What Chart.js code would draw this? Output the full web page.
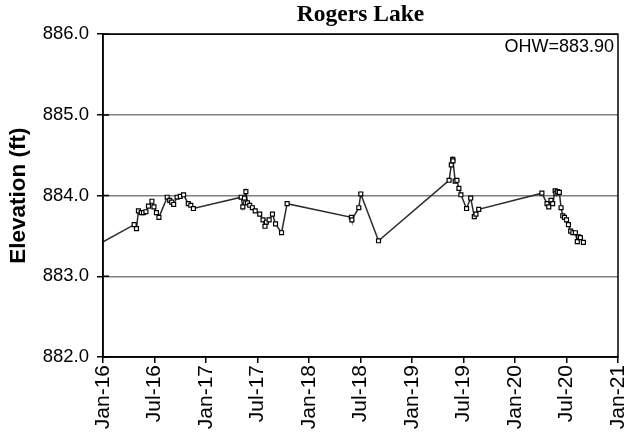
<!DOCTYPE html>
<html>
<head>
<meta charset="utf-8">
<script src="https://cdn.jsdelivr.net/npm/chart.js@4"></script>
<style>
  html, body { margin: 0; padding: 0; background: #fff; }
  #wrap { width: 624px; height: 440px; }
</style>
</head>
<body>
<div id="wrap"><canvas id="lakeChart" width="624" height="440"></canvas></div>
<script>
const chartTitle = "Rogers Lake";
const yAxisTitle = "Elevation (ft)";
const ohwLabel = "OHW=883.90";

// survey dates and lake elevations (ft)
const dates = [
    "2015-11-01",
    "2016-04-20", "2016-04-28", "2016-05-05", "2016-05-15", "2016-05-23", "2016-06-01",
    "2016-06-10", "2016-06-22", "2016-06-29", "2016-07-08", "2016-07-17", "2016-08-16",
    "2016-08-25", "2016-09-01", "2016-09-08", "2016-09-20", "2016-10-01", "2016-10-13",
    "2016-10-30", "2016-11-08", "2016-11-17",
    "2017-05-04", "2017-05-10", "2017-05-16", "2017-05-21", "2017-05-27", "2017-06-04",
    "2017-06-13", "2017-06-23", "2017-07-09", "2017-07-21", "2017-07-28", "2017-08-02",
    "2017-08-12", "2017-08-24", "2017-09-04", "2017-09-25", "2017-10-15",
    "2018-05-30", "2018-06-01", "2018-06-25", "2018-07-02", "2018-09-04",
    "2019-05-11", "2019-05-19", "2019-05-24", "2019-05-25", "2019-06-02", "2019-06-08",
    "2019-06-15", "2019-06-22", "2019-07-12", "2019-07-27", "2019-08-09", "2019-08-15",
    "2019-08-25",
    "2020-04-05", "2020-04-23", "2020-04-29", "2020-05-07", "2020-05-13", "2020-05-22",
    "2020-05-25", "2020-05-31", "2020-06-06", "2020-06-12", "2020-06-18", "2020-06-24",
    "2020-07-01", "2020-07-08", "2020-07-16", "2020-07-24", "2020-08-02", "2020-08-09",
    "2020-08-14", "2020-08-20", "2020-08-31"
];
const elevations = [
    883.31,
    883.64, 883.59, 883.81, 883.79, 883.79, 883.80,
    883.87, 883.93, 883.86, 883.79, 883.73, 883.98,
    883.94, 883.92, 883.89, 883.98, 883.99, 884.01,
    883.90, 883.88, 883.84,
    883.98, 883.86, 883.97, 884.05, 883.91, 883.88,
    883.85, 883.81, 883.77, 883.70, 883.62, 883.67,
    883.70, 883.77, 883.65, 883.54, 883.90,
    883.73, 883.70, 883.85, 884.02, 883.44,
    884.19, 884.38, 884.45, 884.43, 884.18, 884.19,
    884.09, 884.01, 883.84, 883.97, 883.74, 883.77,
    883.83,
    884.03, 883.90, 883.86, 883.94, 883.90, 884.06,
    884.03, 884.05, 884.04, 883.85, 883.75, 883.73,
    883.70, 883.64, 883.56, 883.54, 883.54, 883.43,
    883.49, 883.48, 883.42
];

const xTickLabels = ["Jan-16", "Jul-16", "Jan-17", "Jul-17", "Jan-18", "Jul-18",
    "Jan-19", "Jul-19", "Jan-20", "Jul-20", "Jan-21"];
const yTicks = [882, 883, 884, 885, 886];

// months since Jan 1 2016
const toMonths = (s) => {
    const [y, m, d] = s.split("-").map(Number);
    const daysInMonth = new Date(y, m, 0).getDate();
    return (y - 2016) * 12 + (m - 1) + (d - 1) / daysInMonth;
};

const points = dates.map((d, i) => ({ x: toMonths(d), y: elevations[i] }));

const sans = "'Liberation Sans', Arial, sans-serif";

// black box round the plot, inner half of the y tick crosses, OHW note
const frame = {
    id: "frame",
    afterDatasetsDraw(chart) {
        const { ctx, chartArea: a, scales } = chart;
        ctx.save();
        ctx.strokeStyle = "#000";
        ctx.lineWidth = 1.5;
        ctx.strokeRect(a.left, a.top, a.right - a.left, a.bottom - a.top);
        ctx.beginPath();
        yTicks.forEach(v => {
            const py = scales.y.getPixelForValue(v);
            ctx.moveTo(a.left, py);
            ctx.lineTo(a.left + 6, py);
        });
        ctx.stroke();
        ctx.fillStyle = "#000";
        ctx.font = "18px " + sans;
        ctx.textAlign = "right";
        ctx.textBaseline = "middle";
        ctx.fillText(ohwLabel, a.right - 4, a.top + 13);
        ctx.restore();
    }
};

new Chart(document.getElementById("lakeChart"), {
    type: "line",
    data: {
        datasets: [{
            data: points,
            borderColor: "#2b2b2b",
            borderWidth: 1.5,
            pointStyle: "rect",
            pointRadius: 2.8,
            pointBackgroundColor: "#fff",
            pointBorderColor: "#000",
            pointBorderWidth: 1.2,
            tension: 0
        }]
    },
    options: {
        responsive: false,
        animation: false,
        layout: { padding: { left: 0, right: 6, top: 0, bottom: 0 } },
        plugins: {
            legend: { display: false },
            tooltip: { enabled: false },
            title: {
                display: true,
                fullSize: false,
                text: chartTitle,
                color: "#000",
                font: { family: "'Liberation Serif', 'Times New Roman', serif", size: 23.5, weight: "bold" },
                padding: { top: 1, bottom: 5 }
            }
        },
        scales: {
            x: {
                type: "linear",
                min: 0,
                max: 60,
                grid: { drawOnChartArea: false, drawTicks: true, tickLength: 6, color: "#000", lineWidth: 1.5 },
                border: { display: true, color: "#000", width: 1.5 },
                ticks: {
                    stepSize: 6,
                    autoSkip: false,
                    maxRotation: 90,
                    minRotation: 90,
                    color: "#000",
                    font: { family: sans, size: 21 },
                    padding: 2,
                    callback: (v) => xTickLabels[v / 6]
                },
                afterFit: (scale) => {
                    scale.height = 83;
                    scale.paddingLeft = 0;
                    scale.paddingRight = 0;
                }
            },
            y: {
                min: yTicks[0],
                max: yTicks[yTicks.length - 1],
                grid: { color: "#808080", lineWidth: 1.5, tickLength: 6, tickColor: "#000" },
                border: { display: true, color: "#000", width: 1.5 },
                ticks: {
                    stepSize: 1,
                    color: "#000",
                    font: { family: sans, size: 18.5 },
                    padding: 8,
                    callback: (v) => v.toFixed(1)
                },
                title: {
                    display: true,
                    text: yAxisTitle,
                    color: "#000",
                    font: { family: sans, size: 22.5, weight: "bold" },
                    padding: { top: 5, bottom: 0 }
                },
                afterFit: (scale) => {
                    scale.width = 103;
                }
            }
        }
    },
    plugins: [frame]
});
</script>
</body>
</html>
